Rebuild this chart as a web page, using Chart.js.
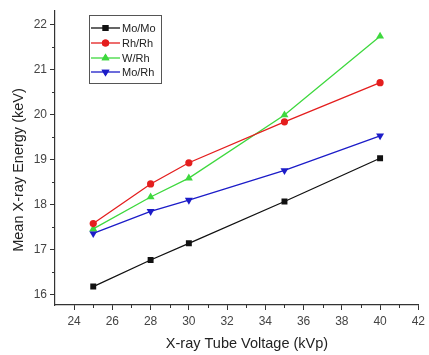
<!DOCTYPE html>
<html>
<head>
<meta charset="utf-8">
<script src="https://cdn.jsdelivr.net/npm/chart.js@4/dist/chart.umd.min.js"></script>
<style>
html,body{margin:0;padding:0;background:#fff;}
#wrap{width:429px;height:355px;position:relative;}
</style>
</head>
<body>
<div id="wrap"><canvas id="c" width="429" height="355"></canvas></div>
<script>
// ---- data ----
const kvp = [25, 28, 30, 35, 40];
const moMo = [16.18, 16.77, 17.14, 18.07, 19.03];
const rhRh = [17.58, 18.46, 18.93, 19.84, 20.71];
const wRh = [17.46, 18.17, 18.59, 19.99, 21.74];
const moRh = [17.36, 17.85, 18.10, 18.76, 19.53];
const seriesNames = ['Mo/Mo', 'Rh/Rh', 'W/Rh', 'Mo/Rh'];
const xTicks = [24, 26, 28, 30, 32, 34, 36, 38, 40, 42];
const xMinorTicks = [25, 27, 29, 31, 33, 35, 37, 39, 41];
const yTicks = [16, 17, 18, 19, 20, 21, 22];
const yMinorTicks = [16.5, 17.5, 18.5, 19.5, 20.5, 21.5];
const xTitle = 'X-ray Tube Voltage (kVp)';
const yTitle = 'Mean X-ray Energy (keV)';

const FONT = '"Liberation Sans", Arial, sans-serif';
const AXIS = '#333';

function pts(vals){ return kvp.map((x,i)=>({x:x, y:vals[i]})); }

const styles = [
  {color:'#111111', point:'rect', radius:4.2, rotation:0},
  {color:'#e41e1e', point:'circle', radius:3.6, rotation:0},
  {color:'#3ed83e', point:'triangle', radius:4.6, rotation:0},
  {color:'#1c1cc8', point:'triangle', radius:4.6, rotation:180}
];
const allVals = [moMo, rhRh, wRh, moRh];

const datasets = allVals.map((v,i)=>({
  label: seriesNames[i],
  data: pts(v),
  borderColor: styles[i].color,
  backgroundColor: styles[i].color,
  borderWidth: 1.3,
  pointStyle: styles[i].point,
  pointRadius: styles[i].radius,
  pointRotation: styles[i].rotation,
  pointBorderWidth: 0,
  pointBackgroundColor: styles[i].color,
  tension: 0
}));

const extras = {
  id: 'extras',
  afterDraw(chart){
    const ctx = chart.ctx;
    const xs = chart.scales.x, ys = chart.scales.y;
    const ca = chart.chartArea;
    ctx.save();
    // minor ticks
    ctx.strokeStyle = AXIS; ctx.lineWidth = 1;
    ctx.beginPath();
    xMinorTicks.forEach(v=>{
      const px = Math.round(xs.getPixelForValue(v))+0.5;
      ctx.moveTo(px, ca.bottom); ctx.lineTo(px, ca.bottom+3);
    });
    yMinorTicks.forEach(v=>{
      const py = Math.round(ys.getPixelForValue(v))+0.5;
      ctx.moveTo(ca.left, py); ctx.lineTo(ca.left-3, py);
    });
    ctx.stroke();
    // axis titles
    ctx.fillStyle = '#222';
    ctx.font = '14.5px ' + FONT;
    ctx.textAlign = 'center'; ctx.textBaseline = 'middle';
    ctx.fillText(xTitle, 247, 344);
    ctx.save();
    ctx.translate(19, 170);
    ctx.rotate(-Math.PI/2);
    ctx.fillText(yTitle, 0, 0);
    ctx.restore();
    // legend
    ctx.strokeStyle = '#555'; ctx.lineWidth = 1;
    ctx.strokeRect(89.5, 15.5, 72, 68);
    const rowY = [28, 43, 58, 72];
    ctx.font = '11px ' + FONT;
    ctx.textAlign = 'left';
    chart.data.datasets.forEach((ds,i)=>{
      const y = rowY[i];
      ctx.strokeStyle = ds.borderColor; ctx.lineWidth = 1.3;
      ctx.beginPath(); ctx.moveTo(91, y); ctx.lineTo(120, y); ctx.stroke();
      ctx.fillStyle = ds.pointBackgroundColor;
      Chart.helpers.drawPoint(ctx, {pointStyle: ds.pointStyle, radius: ds.pointRadius, rotation: ds.pointRotation, borderWidth: 0}, 105.5, y);
      ctx.fill();
      ctx.fillStyle = '#222';
      ctx.fillText(ds.label, 122, y+0.5);
    });
    ctx.restore();
  }
};

new Chart(document.getElementById('c'), {
  type: 'line',
  data: { datasets: datasets },
  options: {
    responsive: false,
    animation: false,
    devicePixelRatio: 1,
    layout: { padding: { left: 0, top: 2, right: 6, bottom: 0 } },
    plugins: { legend: { display: false }, tooltip: { enabled: false } },
    scales: {
      x: {
        type: 'linear', min: 23, max: 42,
        afterBuildTicks(s){ s.ticks = xTicks.map(v=>({value:v})); },
        afterFit(s){ s.height = 50; },
        grid: { drawOnChartArea: false, drawTicks: true, tickLength: 5, color: AXIS, lineWidth: 1 },
        border: { display: true, color: AXIS, width: 1.2 },
        ticks: { font: { family: FONT, size: 12 }, color: '#444', padding: 4, maxRotation: 0, autoSkip: false }
      },
      y: {
        type: 'linear', min: 15.77, max: 22.32,
        afterBuildTicks(s){ s.ticks = yTicks.map(v=>({value:v})); },
        afterFit(s){ s.width = 55; },
        grid: { drawOnChartArea: false, drawTicks: true, tickLength: 5, color: AXIS, lineWidth: 1 },
        border: { display: true, color: AXIS, width: 1.2 },
        ticks: { font: { family: FONT, size: 12 }, color: '#444', padding: 3, autoSkip: false }
      }
    }
  },
  plugins: [extras]
});
</script>
</body>
</html>
